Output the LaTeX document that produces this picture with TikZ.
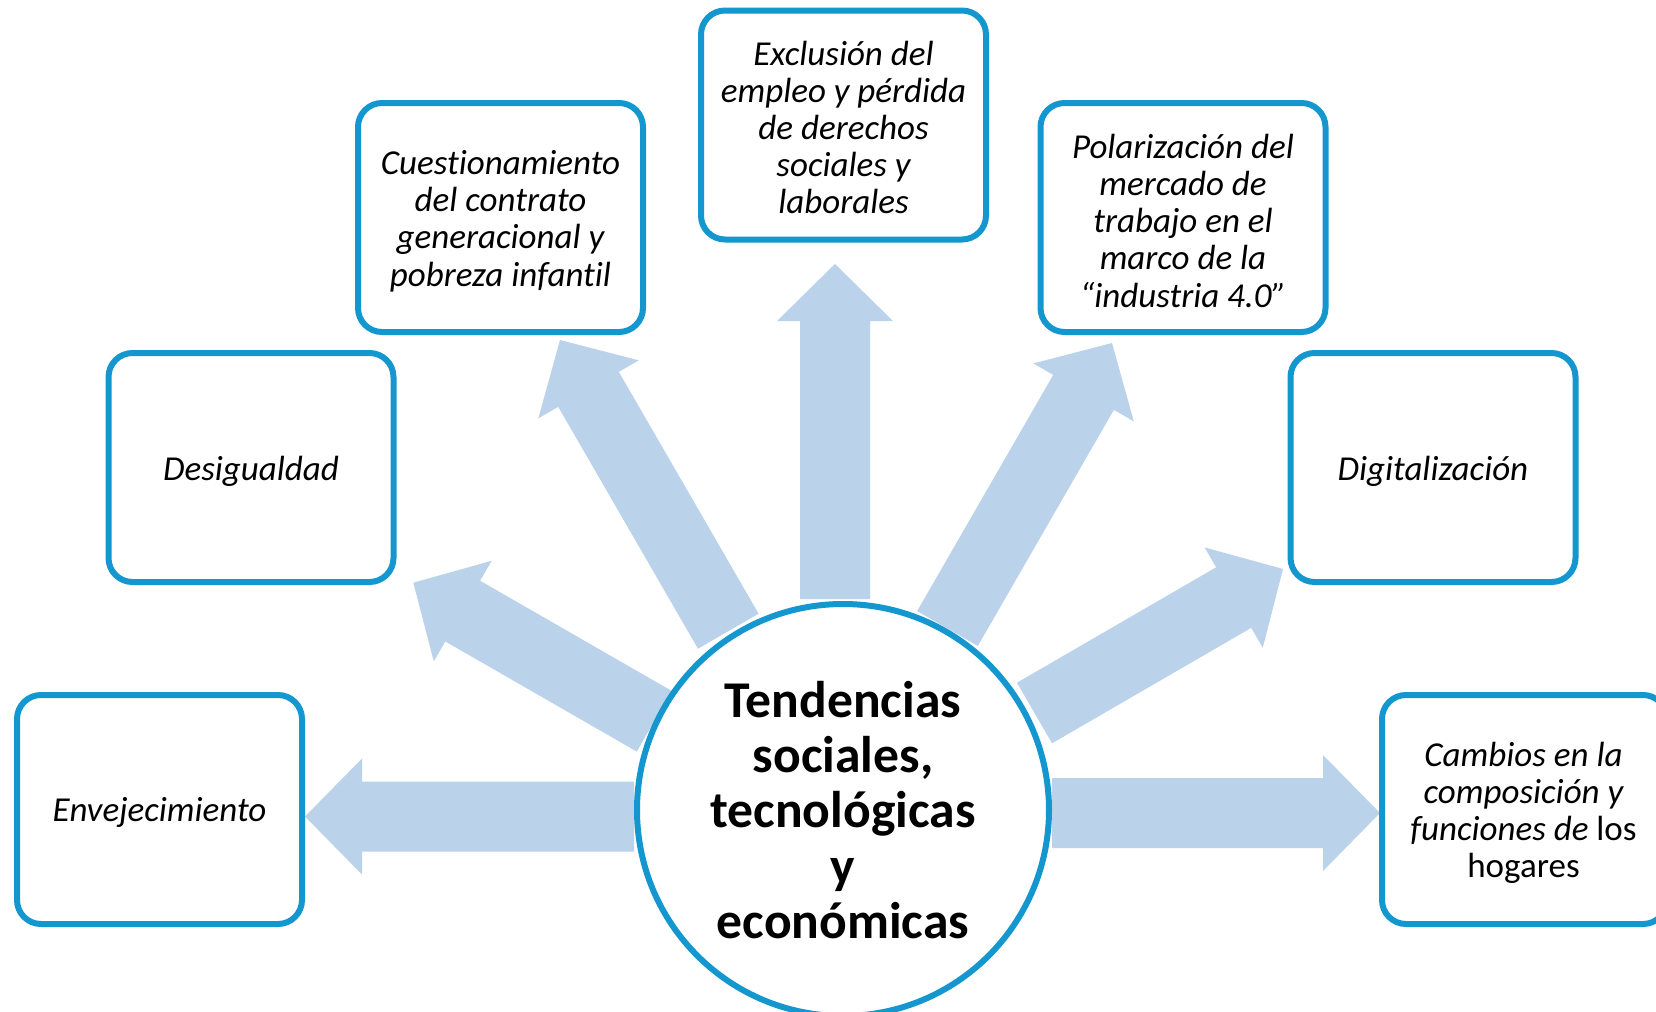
\documentclass[tikz,border=0pt]{standalone}
\usepackage{fontspec}
\setmainfont{Carlito}[Ligatures=CommonOff]
\usetikzlibrary{calc}
\definecolor{arrowblue}{RGB}{187,210,235}
\definecolor{edgeblue}{RGB}{20,150,206}
\newcommand\drawblockarrow[2]{%
  \coordinate (h) at ($(#2)!28.5pt!(#1)$);
  \fill[arrowblue] ($(#1)!17.5pt!90:(#2)$) -- ($(h)!17.5pt!90:(#2)$) -- ($(h)!29pt!90:(#2)$) -- (#2)
     -- ($(h)!29pt!-90:(#2)$) -- ($(h)!17.5pt!-90:(#2)$) -- ($(#1)!17.5pt!-90:(#2)$) -- cycle;
}
\tikzset{
  topicbox/.style={draw=edgeblue, line width=3pt, fill=white, rounded corners=12pt,
    minimum width=142.5pt, minimum height=114.5pt, inner sep=0pt},
  topictext/.style={inner sep=0pt, align=center,
    font=\fontsize{17.5pt}{18.6pt}\selectfont\itshape},
  hubcircle/.style={circle, draw=edgeblue, line width=3pt, fill=white,
    minimum size=206pt, inner sep=0pt, align=center,
    font=\fontsize{25.8pt}{27.6pt}\selectfont\bfseries}
}
\begin{document}
\begin{tikzpicture}[x=0.5pt, y=-0.5pt]
\useasboundingbox (0,0) rectangle (1656,1012);
\fill[white] (0,0) rectangle (1656,1012);
% arrow end points
\coordinate (b1) at (634,816.5);   \coordinate (t1) at (305,816.5);
\coordinate (b2) at (654.2,721.2); \coordinate (t2) at (413.3,582.7);
\coordinate (b3) at (728.3,631.2); \coordinate (t3) at (560,340);
\coordinate (b4) at (835,599);     \coordinate (t4) at (835,264);
\coordinate (b5) at (947.5,628.5); \coordinate (t5) at (1112,343);
\coordinate (b6) at (1034.5,713);  \coordinate (t6) at (1283,569);
\coordinate (b7) at (1052,813);    \coordinate (t7) at (1380,813);
\drawblockarrow{b1}{t1}
\drawblockarrow{b2}{t2}
\drawblockarrow{b3}{t3}
\drawblockarrow{b4}{t4}
\drawblockarrow{b5}{t5}
\drawblockarrow{b6}{t6}
\drawblockarrow{b7}{t7}
% boxes
\node[topicbox] (env) at (159.5,809.5) {};
\node[topicbox] (des) at (251,467.5) {};
\node[topicbox] (cue) at (500.5,217.5) {};
\node[topicbox] (exc) at (843.5,125) {};
\node[topicbox] (pol) at (1183,217.5) {};
\node[topicbox] (dig) at (1433,467.5) {};
\node[topicbox] (cam) at (1524.5,809.5) {};
% box texts
\node[topictext] (envtext) at ([yshift=-1.7pt]env.center) {Envejecimiento};
\node[topictext] (destext) at ([yshift=-1.7pt]des.center) {Desigualdad};
\node[topictext] (cuetext) at ([yshift=-1.8pt]cue.center) {Cuestionamiento\\del contrato\\generacional y\\pobreza infantil};
\node[topictext] (exctext) at ([yshift=-1.2pt]exc.center) {Exclusión del\\empleo y pérdida\\de derechos\\sociales y\\laborales};
\node[topictext] (poltext) at ([yshift=-1.6pt]pol.center) {Polarización del\\mercado de\\trabajo en el\\marco de la\\“industria 4.0”};
\node[topictext] (digtext) at ([yshift=-1.7pt]dig.center) {Digitalización};
\node[topictext] (camtext) at ([xshift=-0.5pt,yshift=-1.6pt]cam.center) {Cambios en la\\composición y\\funciones de {\upshape los}\\{\upshape hogares}};
% hub
\node[hubcircle] (hub) at (843,810) {Tendencias\\sociales,\\tecnológicas\\y\\económicas};
\end{tikzpicture}
\end{document}
